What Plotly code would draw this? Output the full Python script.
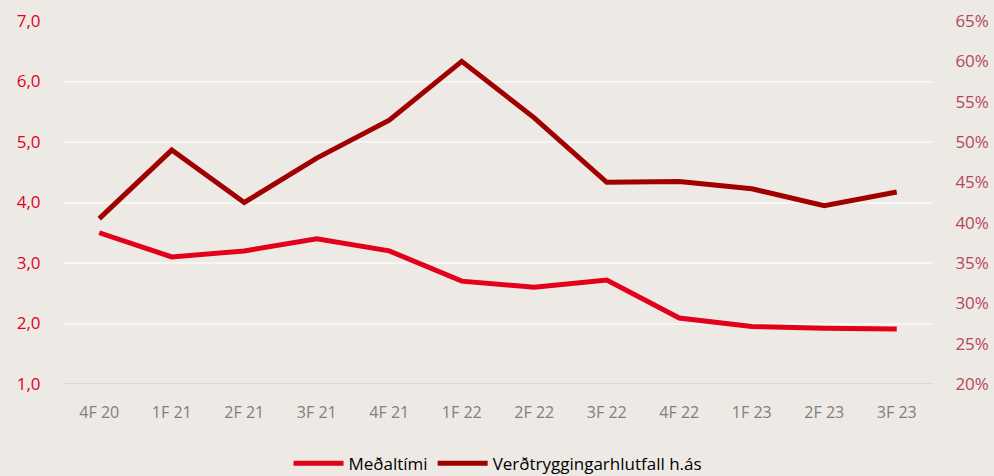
import plotly.graph_objects as go

categories = ["4F 20", "1F 21", "2F 21", "3F 21", "4F 21", "1F 22",
              "2F 22", "3F 22", "4F 22", "1F 23", "2F 23", "3F 23"]
medaltimi = [3.50, 3.10, 3.20, 3.40, 3.20, 2.70, 2.60, 2.72, 2.09, 1.95, 1.92, 1.91]
verdtrygging = [0.405, 0.490, 0.425, 0.480, 0.527, 0.600, 0.530, 0.450, 0.451, 0.442, 0.421, 0.438]

left_ticks = [1, 2, 3, 4, 5, 6, 7]
right_ticks = [0.20, 0.25, 0.30, 0.35, 0.40, 0.45, 0.50, 0.55, 0.60, 0.65]

BG = "#EDEAE6"
FONT = "Open Sans"

fig = go.Figure()
fig.add_trace(go.Scatter(
    x=categories, y=medaltimi, name="Meðaltími", mode="lines",
    line=dict(color="#E3001B", width=5), yaxis="y"))
fig.add_trace(go.Scatter(
    x=categories, y=verdtrygging, name="Verðtryggingarhlutfall h.ás", mode="lines",
    line=dict(color="#A00000", width=5), yaxis="y2"))

fig.update_layout(
    width=994, height=476,
    paper_bgcolor=BG, plot_bgcolor=BG,
    margin=dict(l=63, r=61, t=21, b=92, autoexpand=False),
    separators=",.",
    font=dict(family=FONT, size=16),
    showlegend=True,
    legend=dict(orientation="h", x=0.5, xanchor="center", y=-0.17, yanchor="top",
                font=dict(family=FONT, size=17, color="#000000"),
                bgcolor="rgba(0,0,0,0)", itemwidth=50, tracegroupgap=0),
    xaxis=dict(type="category", range=[-0.5, 11.5], showgrid=False, zeroline=False,
               showline=False, ticks="outside", ticklen=14, tickcolor="rgba(0,0,0,0)",
               automargin=False,
               tickfont=dict(family=FONT, size=16, color="#7F7F7F")),
    yaxis=dict(range=[1, 7], tickvals=left_ticks, tickformat=".1f",
               showgrid=True, gridcolor="#F8F6F4", gridwidth=2, zeroline=False,
               showline=False, ticks="outside", ticklen=18, tickcolor="rgba(0,0,0,0)",
               automargin=False,
               tickfont=dict(family=FONT, size=17, color="#E3001B")),
    yaxis2=dict(range=[0.20, 0.65], tickvals=right_ticks, tickformat=".0%",
                overlaying="y", side="right", showgrid=False, zeroline=False,
                showline=False, ticks="outside", ticklen=18, tickcolor="rgba(0,0,0,0)",
                automargin=False,
                tickfont=dict(family=FONT, size=17, color="#B5475A")),
)

fig.add_shape(type="line", xref="paper", yref="y", x0=0, x1=1, y0=1, y1=1,
              line=dict(color="#D9D9D9", width=2), layer="below")

fig.write_html("out.html", config={"displayModeBar": False},
               post_script="document.body.style.margin='0';document.body.style.overflow='hidden';")
